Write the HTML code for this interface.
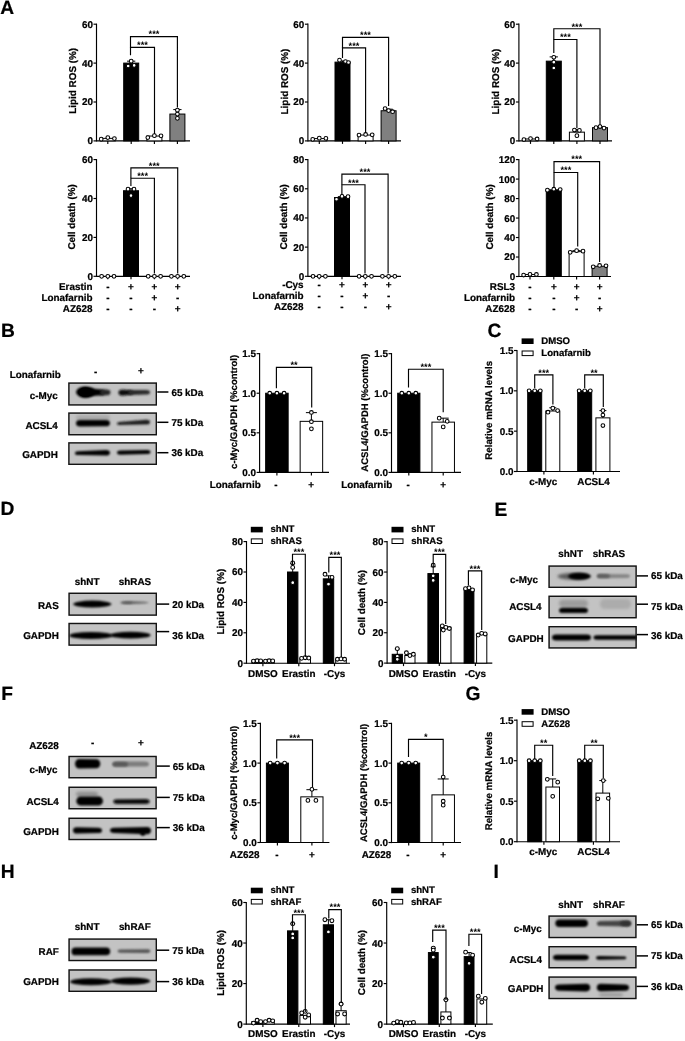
<!DOCTYPE html>
<html><head><meta charset="utf-8"><title>Figure</title>
<style>
html,body{margin:0;padding:0;background:#fff;}
svg{display:block;}
text{font-family:"Liberation Sans",Arial,Helvetica,sans-serif;font-weight:bold;font-size:9.9px;fill:#000;stroke:#000;stroke-width:0.22px;text-rendering:geometricPrecision;}
</style></head><body>
<svg width="685" height="1041" viewBox="0 0 685 1041">
<defs>
<filter id="b06" x="-50%" y="-200%" width="200%" height="500%"><feGaussianBlur stdDeviation="0.6"/></filter>
<filter id="b07" x="-50%" y="-200%" width="200%" height="500%"><feGaussianBlur stdDeviation="0.9"/></filter>
<filter id="b1" x="-50%" y="-200%" width="200%" height="500%"><feGaussianBlur stdDeviation="1"/></filter>
<filter id="b15" x="-50%" y="-200%" width="200%" height="500%"><feGaussianBlur stdDeviation="1.5"/></filter>
<filter id="b2" x="-50%" y="-200%" width="200%" height="500%"><feGaussianBlur stdDeviation="2"/></filter>
</defs>
<rect width="685" height="1041" fill="#fff"/>
<text x="0.2" y="13.9" style="font-size:19.2px">A</text>
<line x1="96.5" y1="23.6" x2="96.5" y2="141.5" stroke="#000" stroke-width="1.15"/>
<line x1="93.5" y1="140.9" x2="96.5" y2="140.9" stroke="#000" stroke-width="1.15"/>
<text x="92.9" y="144.37" text-anchor="end">0</text>
<line x1="93.5" y1="102" x2="96.5" y2="102" stroke="#000" stroke-width="1.15"/>
<text x="92.9" y="105.47" text-anchor="end">20</text>
<line x1="93.5" y1="63.1" x2="96.5" y2="63.1" stroke="#000" stroke-width="1.15"/>
<text x="92.9" y="66.57" text-anchor="end">40</text>
<line x1="93.5" y1="24.2" x2="96.5" y2="24.2" stroke="#000" stroke-width="1.15"/>
<text x="92.9" y="27.67" text-anchor="end">60</text>
<line x1="96.5" y1="140.9" x2="190" y2="140.9" stroke="#000" stroke-width="1.15"/>
<line x1="107.8" y1="140.9" x2="107.8" y2="143.9" stroke="#000" stroke-width="1.15"/>
<line x1="131.2" y1="140.9" x2="131.2" y2="143.9" stroke="#000" stroke-width="1.15"/>
<line x1="154.4" y1="140.9" x2="154.4" y2="143.9" stroke="#000" stroke-width="1.15"/>
<line x1="177.4" y1="140.9" x2="177.4" y2="143.9" stroke="#000" stroke-width="1.15"/>
<text x="75.87" y="80.8" text-anchor="middle" transform="rotate(-90 75.87 80.8)">Lipid ROS (%)</text>
<rect x="100.3" y="138.37" width="15" height="2.53" fill="#fff" stroke="#000" stroke-width="1"/>
<circle cx="101.2" cy="139.15" r="1.85" fill="#fff" stroke="#000" stroke-width="1.05"/>
<circle cx="107.8" cy="137.59" r="1.85" fill="#fff" stroke="#000" stroke-width="1.05"/>
<circle cx="114.4" cy="138.57" r="1.85" fill="#fff" stroke="#000" stroke-width="1.05"/>
<rect x="123.7" y="63.1" width="15" height="77.8" fill="#000" stroke="#000" stroke-width="1"/>
<line x1="131.2" y1="63.1" x2="131.2" y2="61.16" stroke="#000" stroke-width="1"/>
<line x1="127.07" y1="61.16" x2="135.32" y2="61.16" stroke="#000" stroke-width="1"/>
<circle cx="131.2" cy="61.16" r="1.85" fill="#fff" stroke="#000" stroke-width="1.05"/>
<circle cx="128.2" cy="66.02" r="1.85" fill="#fff" stroke="#000" stroke-width="1.05"/>
<circle cx="134.2" cy="65.43" r="1.85" fill="#fff" stroke="#000" stroke-width="1.05"/>
<rect x="146.9" y="136.04" width="15" height="4.86" fill="#fff" stroke="#000" stroke-width="1"/>
<circle cx="147.8" cy="137.59" r="1.85" fill="#fff" stroke="#000" stroke-width="1.05"/>
<circle cx="154.4" cy="135.65" r="1.85" fill="#fff" stroke="#000" stroke-width="1.05"/>
<circle cx="161" cy="135.84" r="1.85" fill="#fff" stroke="#000" stroke-width="1.05"/>
<rect x="169.9" y="114.06" width="15" height="26.84" fill="#808080" stroke="#000" stroke-width="1"/>
<line x1="177.4" y1="114.06" x2="177.4" y2="109.59" stroke="#000" stroke-width="1"/>
<line x1="173.28" y1="109.59" x2="181.53" y2="109.59" stroke="#000" stroke-width="1"/>
<circle cx="177.4" cy="110.17" r="1.85" fill="#fff" stroke="#000" stroke-width="1.05"/>
<circle cx="177.4" cy="114.06" r="1.85" fill="#fff" stroke="#000" stroke-width="1.05"/>
<circle cx="177.4" cy="118.34" r="1.85" fill="#fff" stroke="#000" stroke-width="1.05"/>
<path d="M130.5 55.3V47.4H154.5V134" fill="none" stroke="#000" stroke-width="1.15"/>
<text x="142.5" y="48.2" text-anchor="middle" style="font-size:9.3px;stroke:none">***</text>
<path d="M130.5 47.4V36.6H177.4V107.5" fill="none" stroke="#000" stroke-width="1.15"/>
<text x="153.95" y="37.4" text-anchor="middle" style="font-size:9.3px;stroke:none">***</text>
<line x1="307.9" y1="23.6" x2="307.9" y2="141.5" stroke="#000" stroke-width="1.15"/>
<line x1="304.9" y1="140.9" x2="307.9" y2="140.9" stroke="#000" stroke-width="1.15"/>
<text x="304.3" y="144.37" text-anchor="end">0</text>
<line x1="304.9" y1="102" x2="307.9" y2="102" stroke="#000" stroke-width="1.15"/>
<text x="304.3" y="105.47" text-anchor="end">20</text>
<line x1="304.9" y1="63.1" x2="307.9" y2="63.1" stroke="#000" stroke-width="1.15"/>
<text x="304.3" y="66.57" text-anchor="end">40</text>
<line x1="304.9" y1="24.2" x2="307.9" y2="24.2" stroke="#000" stroke-width="1.15"/>
<text x="304.3" y="27.67" text-anchor="end">60</text>
<line x1="307.9" y1="140.9" x2="401" y2="140.9" stroke="#000" stroke-width="1.15"/>
<line x1="319.3" y1="140.9" x2="319.3" y2="143.9" stroke="#000" stroke-width="1.15"/>
<line x1="342.5" y1="140.9" x2="342.5" y2="143.9" stroke="#000" stroke-width="1.15"/>
<line x1="365.6" y1="140.9" x2="365.6" y2="143.9" stroke="#000" stroke-width="1.15"/>
<line x1="388.6" y1="140.9" x2="388.6" y2="143.9" stroke="#000" stroke-width="1.15"/>
<text x="287.77" y="81.5" text-anchor="middle" transform="rotate(-90 287.77 81.5)">Lipid ROS (%)</text>
<rect x="311.8" y="138.57" width="15" height="2.33" fill="#fff" stroke="#000" stroke-width="1"/>
<circle cx="312.7" cy="139.34" r="1.85" fill="#fff" stroke="#000" stroke-width="1.05"/>
<circle cx="319.3" cy="138.18" r="1.85" fill="#fff" stroke="#000" stroke-width="1.05"/>
<circle cx="325.9" cy="138.37" r="1.85" fill="#fff" stroke="#000" stroke-width="1.05"/>
<rect x="335" y="62.13" width="15" height="78.77" fill="#000" stroke="#000" stroke-width="1"/>
<line x1="342.5" y1="62.13" x2="342.5" y2="60.96" stroke="#000" stroke-width="1"/>
<line x1="338.38" y1="60.96" x2="346.62" y2="60.96" stroke="#000" stroke-width="1"/>
<circle cx="339.5" cy="60.18" r="1.85" fill="#fff" stroke="#000" stroke-width="1.05"/>
<circle cx="345.5" cy="61.54" r="1.85" fill="#fff" stroke="#000" stroke-width="1.05"/>
<circle cx="348.5" cy="62.52" r="1.85" fill="#fff" stroke="#000" stroke-width="1.05"/>
<rect x="358.1" y="135.06" width="15" height="5.84" fill="#fff" stroke="#000" stroke-width="1"/>
<circle cx="359" cy="135.06" r="1.85" fill="#fff" stroke="#000" stroke-width="1.05"/>
<circle cx="365.6" cy="134.48" r="1.85" fill="#fff" stroke="#000" stroke-width="1.05"/>
<circle cx="372.2" cy="134.87" r="1.85" fill="#fff" stroke="#000" stroke-width="1.05"/>
<rect x="381.1" y="110.75" width="15" height="30.15" fill="#808080" stroke="#000" stroke-width="1"/>
<line x1="388.6" y1="110.75" x2="388.6" y2="109.2" stroke="#000" stroke-width="1"/>
<line x1="384.48" y1="109.2" x2="392.73" y2="109.2" stroke="#000" stroke-width="1"/>
<circle cx="385.1" cy="108.61" r="1.85" fill="#fff" stroke="#000" stroke-width="1.05"/>
<circle cx="388.6" cy="110.56" r="1.85" fill="#fff" stroke="#000" stroke-width="1.05"/>
<circle cx="392.6" cy="111.73" r="1.85" fill="#fff" stroke="#000" stroke-width="1.05"/>
<path d="M342.5 58V47.9H365.6V133" fill="none" stroke="#000" stroke-width="1.15"/>
<text x="354.05" y="48.7" text-anchor="middle" style="font-size:9.3px;stroke:none">***</text>
<path d="M342.5 47.9V37.4H388.6V106" fill="none" stroke="#000" stroke-width="1.15"/>
<text x="365.55" y="38.2" text-anchor="middle" style="font-size:9.3px;stroke:none">***</text>
<line x1="518.9" y1="23.6" x2="518.9" y2="141.5" stroke="#000" stroke-width="1.15"/>
<line x1="515.9" y1="140.9" x2="518.9" y2="140.9" stroke="#000" stroke-width="1.15"/>
<text x="515.3" y="144.37" text-anchor="end">0</text>
<line x1="515.9" y1="102" x2="518.9" y2="102" stroke="#000" stroke-width="1.15"/>
<text x="515.3" y="105.47" text-anchor="end">20</text>
<line x1="515.9" y1="63.1" x2="518.9" y2="63.1" stroke="#000" stroke-width="1.15"/>
<text x="515.3" y="66.57" text-anchor="end">40</text>
<line x1="515.9" y1="24.2" x2="518.9" y2="24.2" stroke="#000" stroke-width="1.15"/>
<text x="515.3" y="27.67" text-anchor="end">60</text>
<line x1="518.9" y1="140.9" x2="612" y2="140.9" stroke="#000" stroke-width="1.15"/>
<line x1="530.5" y1="140.9" x2="530.5" y2="143.9" stroke="#000" stroke-width="1.15"/>
<line x1="553.8" y1="140.9" x2="553.8" y2="143.9" stroke="#000" stroke-width="1.15"/>
<line x1="576.9" y1="140.9" x2="576.9" y2="143.9" stroke="#000" stroke-width="1.15"/>
<line x1="600" y1="140.9" x2="600" y2="143.9" stroke="#000" stroke-width="1.15"/>
<text x="498.77" y="81.5" text-anchor="middle" transform="rotate(-90 498.77 81.5)">Lipid ROS (%)</text>
<rect x="523" y="138.96" width="15" height="1.94" fill="#fff" stroke="#000" stroke-width="1"/>
<circle cx="523.9" cy="139.54" r="1.85" fill="#fff" stroke="#000" stroke-width="1.05"/>
<circle cx="530.5" cy="138.57" r="1.85" fill="#fff" stroke="#000" stroke-width="1.05"/>
<circle cx="537.1" cy="138.96" r="1.85" fill="#fff" stroke="#000" stroke-width="1.05"/>
<rect x="546.3" y="61.16" width="15" height="79.74" fill="#000" stroke="#000" stroke-width="1"/>
<line x1="553.8" y1="61.16" x2="553.8" y2="56.88" stroke="#000" stroke-width="1"/>
<line x1="549.67" y1="56.88" x2="557.92" y2="56.88" stroke="#000" stroke-width="1"/>
<circle cx="553.8" cy="57.27" r="1.85" fill="#fff" stroke="#000" stroke-width="1.05"/>
<circle cx="553.8" cy="62.13" r="1.85" fill="#fff" stroke="#000" stroke-width="1.05"/>
<circle cx="553.8" cy="67.96" r="1.85" fill="#fff" stroke="#000" stroke-width="1.05"/>
<rect x="569.4" y="132.15" width="15" height="8.75" fill="#fff" stroke="#000" stroke-width="1"/>
<line x1="576.9" y1="132.15" x2="576.9" y2="129.62" stroke="#000" stroke-width="1"/>
<line x1="572.77" y1="129.62" x2="581.02" y2="129.62" stroke="#000" stroke-width="1"/>
<circle cx="574.4" cy="130.01" r="1.85" fill="#fff" stroke="#000" stroke-width="1.05"/>
<circle cx="579.4" cy="130.4" r="1.85" fill="#fff" stroke="#000" stroke-width="1.05"/>
<circle cx="576.9" cy="135.65" r="1.85" fill="#fff" stroke="#000" stroke-width="1.05"/>
<rect x="592.5" y="127.67" width="15" height="13.23" fill="#808080" stroke="#000" stroke-width="1"/>
<line x1="600" y1="127.67" x2="600" y2="126.7" stroke="#000" stroke-width="1"/>
<line x1="595.88" y1="126.7" x2="604.12" y2="126.7" stroke="#000" stroke-width="1"/>
<circle cx="596" cy="127.67" r="1.85" fill="#fff" stroke="#000" stroke-width="1.05"/>
<circle cx="600" cy="126.51" r="1.85" fill="#fff" stroke="#000" stroke-width="1.05"/>
<circle cx="604" cy="128.06" r="1.85" fill="#fff" stroke="#000" stroke-width="1.05"/>
<path d="M553.8 53V39.5H576.9V128" fill="none" stroke="#000" stroke-width="1.15"/>
<text x="565.35" y="40.3" text-anchor="middle" style="font-size:9.3px;stroke:none">***</text>
<path d="M553.8 39.5V28.7H600V125" fill="none" stroke="#000" stroke-width="1.15"/>
<text x="576.9" y="29.5" text-anchor="middle" style="font-size:9.3px;stroke:none">***</text>
<line x1="96.5" y1="159" x2="96.5" y2="276.9" stroke="#000" stroke-width="1.15"/>
<line x1="93.5" y1="276.3" x2="96.5" y2="276.3" stroke="#000" stroke-width="1.15"/>
<text x="92.9" y="279.76" text-anchor="end">0</text>
<line x1="93.5" y1="237.4" x2="96.5" y2="237.4" stroke="#000" stroke-width="1.15"/>
<text x="92.9" y="240.87" text-anchor="end">20</text>
<line x1="93.5" y1="198.5" x2="96.5" y2="198.5" stroke="#000" stroke-width="1.15"/>
<text x="92.9" y="201.97" text-anchor="end">40</text>
<line x1="93.5" y1="159.6" x2="96.5" y2="159.6" stroke="#000" stroke-width="1.15"/>
<text x="92.9" y="163.06" text-anchor="end">60</text>
<line x1="96.5" y1="276.3" x2="190" y2="276.3" stroke="#000" stroke-width="1.15"/>
<line x1="107.8" y1="276.3" x2="107.8" y2="279.3" stroke="#000" stroke-width="1.15"/>
<line x1="131" y1="276.3" x2="131" y2="279.3" stroke="#000" stroke-width="1.15"/>
<line x1="154.4" y1="276.3" x2="154.4" y2="279.3" stroke="#000" stroke-width="1.15"/>
<line x1="177.6" y1="276.3" x2="177.6" y2="279.3" stroke="#000" stroke-width="1.15"/>
<text x="75.37" y="216.9" text-anchor="middle" transform="rotate(-90 75.37 216.9)">Cell death (%)</text>
<circle cx="101.6" cy="276.3" r="1.85" fill="#fff" stroke="#000" stroke-width="1.05"/>
<circle cx="107.8" cy="276.3" r="1.85" fill="#fff" stroke="#000" stroke-width="1.05"/>
<circle cx="114" cy="276.3" r="1.85" fill="#fff" stroke="#000" stroke-width="1.05"/>
<rect x="123.5" y="190.72" width="15" height="85.58" fill="#000" stroke="#000" stroke-width="1"/>
<line x1="131" y1="190.72" x2="131" y2="188.77" stroke="#000" stroke-width="1"/>
<line x1="126.88" y1="188.77" x2="135.12" y2="188.77" stroke="#000" stroke-width="1"/>
<circle cx="128" cy="189.16" r="1.85" fill="#fff" stroke="#000" stroke-width="1.05"/>
<circle cx="134" cy="189.16" r="1.85" fill="#fff" stroke="#000" stroke-width="1.05"/>
<circle cx="131" cy="195.58" r="1.85" fill="#fff" stroke="#000" stroke-width="1.05"/>
<circle cx="148.2" cy="276.3" r="1.85" fill="#fff" stroke="#000" stroke-width="1.05"/>
<circle cx="154.4" cy="276.3" r="1.85" fill="#fff" stroke="#000" stroke-width="1.05"/>
<circle cx="160.6" cy="276.3" r="1.85" fill="#fff" stroke="#000" stroke-width="1.05"/>
<circle cx="171.4" cy="276.3" r="1.85" fill="#fff" stroke="#000" stroke-width="1.05"/>
<circle cx="177.6" cy="276.3" r="1.85" fill="#fff" stroke="#000" stroke-width="1.05"/>
<circle cx="183.8" cy="276.3" r="1.85" fill="#fff" stroke="#000" stroke-width="1.05"/>
<path d="M130.9 186V178.2H154.4V273.5" fill="none" stroke="#000" stroke-width="1.15"/>
<text x="142.65" y="179" text-anchor="middle" style="font-size:9.3px;stroke:none">***</text>
<path d="M130.9 178.2V167.8H177.7V273.5" fill="none" stroke="#000" stroke-width="1.15"/>
<text x="154.3" y="168.6" text-anchor="middle" style="font-size:9.3px;stroke:none">***</text>
<text x="92.5" y="289.9" text-anchor="end">Erastin</text>
<text x="107.8" y="289.9" text-anchor="middle">-</text>
<text x="131" y="289.9" text-anchor="middle">+</text>
<text x="154.4" y="289.9" text-anchor="middle">+</text>
<text x="177.6" y="289.9" text-anchor="middle">+</text>
<text x="92.5" y="300.5" text-anchor="end">Lonafarnib</text>
<text x="107.8" y="300.5" text-anchor="middle">-</text>
<text x="131" y="300.5" text-anchor="middle">-</text>
<text x="154.4" y="300.5" text-anchor="middle">+</text>
<text x="177.6" y="300.5" text-anchor="middle">-</text>
<text x="92.5" y="311.8" text-anchor="end">AZ628</text>
<text x="107.8" y="311.8" text-anchor="middle">-</text>
<text x="131" y="311.8" text-anchor="middle">-</text>
<text x="154.4" y="311.8" text-anchor="middle">-</text>
<text x="177.6" y="311.8" text-anchor="middle">+</text>
<line x1="307.9" y1="159" x2="307.9" y2="276.9" stroke="#000" stroke-width="1.15"/>
<line x1="304.9" y1="276.3" x2="307.9" y2="276.3" stroke="#000" stroke-width="1.15"/>
<text x="304.3" y="279.76" text-anchor="end">0</text>
<line x1="304.9" y1="247.12" x2="307.9" y2="247.12" stroke="#000" stroke-width="1.15"/>
<text x="304.3" y="250.59" text-anchor="end">20</text>
<line x1="304.9" y1="217.95" x2="307.9" y2="217.95" stroke="#000" stroke-width="1.15"/>
<text x="304.3" y="221.41" text-anchor="end">40</text>
<line x1="304.9" y1="188.78" x2="307.9" y2="188.78" stroke="#000" stroke-width="1.15"/>
<text x="304.3" y="192.24" text-anchor="end">60</text>
<line x1="304.9" y1="159.6" x2="307.9" y2="159.6" stroke="#000" stroke-width="1.15"/>
<text x="304.3" y="163.06" text-anchor="end">80</text>
<line x1="307.9" y1="276.3" x2="401" y2="276.3" stroke="#000" stroke-width="1.15"/>
<line x1="319.2" y1="276.3" x2="319.2" y2="279.3" stroke="#000" stroke-width="1.15"/>
<line x1="342" y1="276.3" x2="342" y2="279.3" stroke="#000" stroke-width="1.15"/>
<line x1="365.3" y1="276.3" x2="365.3" y2="279.3" stroke="#000" stroke-width="1.15"/>
<line x1="388.6" y1="276.3" x2="388.6" y2="279.3" stroke="#000" stroke-width="1.15"/>
<text x="287.37" y="216.9" text-anchor="middle" transform="rotate(-90 287.37 216.9)">Cell death (%)</text>
<circle cx="313" cy="276.3" r="1.85" fill="#fff" stroke="#000" stroke-width="1.05"/>
<circle cx="319.2" cy="276.3" r="1.85" fill="#fff" stroke="#000" stroke-width="1.05"/>
<circle cx="325.4" cy="276.3" r="1.85" fill="#fff" stroke="#000" stroke-width="1.05"/>
<rect x="334.5" y="197.53" width="15" height="78.77" fill="#000" stroke="#000" stroke-width="1"/>
<line x1="342" y1="197.53" x2="342" y2="196.65" stroke="#000" stroke-width="1"/>
<line x1="337.88" y1="196.65" x2="346.12" y2="196.65" stroke="#000" stroke-width="1"/>
<circle cx="336.5" cy="199.28" r="1.85" fill="#fff" stroke="#000" stroke-width="1.05"/>
<circle cx="342" cy="196.36" r="1.85" fill="#fff" stroke="#000" stroke-width="1.05"/>
<circle cx="348" cy="196.65" r="1.85" fill="#fff" stroke="#000" stroke-width="1.05"/>
<circle cx="359.1" cy="276.3" r="1.85" fill="#fff" stroke="#000" stroke-width="1.05"/>
<circle cx="365.3" cy="276.3" r="1.85" fill="#fff" stroke="#000" stroke-width="1.05"/>
<circle cx="371.5" cy="276.3" r="1.85" fill="#fff" stroke="#000" stroke-width="1.05"/>
<circle cx="382.4" cy="276.3" r="1.85" fill="#fff" stroke="#000" stroke-width="1.05"/>
<circle cx="388.6" cy="276.3" r="1.85" fill="#fff" stroke="#000" stroke-width="1.05"/>
<circle cx="394.8" cy="276.3" r="1.85" fill="#fff" stroke="#000" stroke-width="1.05"/>
<path d="M341.9 195V184.7H365V273.5" fill="none" stroke="#000" stroke-width="1.15"/>
<text x="353.45" y="185.5" text-anchor="middle" style="font-size:9.3px;stroke:none">***</text>
<path d="M341.9 184.7V174.1H388.1V273.5" fill="none" stroke="#000" stroke-width="1.15"/>
<text x="365" y="174.9" text-anchor="middle" style="font-size:9.3px;stroke:none">***</text>
<text x="303.6" y="287.9" text-anchor="end">-Cys</text>
<text x="319.2" y="287.9" text-anchor="middle">-</text>
<text x="342" y="287.9" text-anchor="middle">+</text>
<text x="365.3" y="287.9" text-anchor="middle">+</text>
<text x="388.6" y="287.9" text-anchor="middle">+</text>
<text x="303.6" y="298.8" text-anchor="end">Lonafarnib</text>
<text x="319.2" y="298.8" text-anchor="middle">-</text>
<text x="342" y="298.8" text-anchor="middle">-</text>
<text x="365.3" y="298.8" text-anchor="middle">+</text>
<text x="388.6" y="298.8" text-anchor="middle">-</text>
<text x="303.6" y="309.7" text-anchor="end">AZ628</text>
<text x="319.2" y="309.7" text-anchor="middle">-</text>
<text x="342" y="309.7" text-anchor="middle">-</text>
<text x="365.3" y="309.7" text-anchor="middle">-</text>
<text x="388.6" y="309.7" text-anchor="middle">+</text>
<line x1="518.9" y1="159" x2="518.9" y2="277.1" stroke="#000" stroke-width="1.15"/>
<line x1="515.9" y1="276.5" x2="518.9" y2="276.5" stroke="#000" stroke-width="1.15"/>
<text x="515.3" y="279.96" text-anchor="end">0</text>
<line x1="515.9" y1="257.02" x2="518.9" y2="257.02" stroke="#000" stroke-width="1.15"/>
<text x="515.3" y="260.48" text-anchor="end">20</text>
<line x1="515.9" y1="237.53" x2="518.9" y2="237.53" stroke="#000" stroke-width="1.15"/>
<text x="515.3" y="241" text-anchor="end">40</text>
<line x1="515.9" y1="218.05" x2="518.9" y2="218.05" stroke="#000" stroke-width="1.15"/>
<text x="515.3" y="221.52" text-anchor="end">60</text>
<line x1="515.9" y1="198.57" x2="518.9" y2="198.57" stroke="#000" stroke-width="1.15"/>
<text x="515.3" y="202.03" text-anchor="end">80</text>
<line x1="515.9" y1="179.08" x2="518.9" y2="179.08" stroke="#000" stroke-width="1.15"/>
<text x="515.3" y="182.55" text-anchor="end">100</text>
<line x1="515.9" y1="159.6" x2="518.9" y2="159.6" stroke="#000" stroke-width="1.15"/>
<text x="515.3" y="163.06" text-anchor="end">120</text>
<line x1="518.9" y1="276.5" x2="611" y2="276.5" stroke="#000" stroke-width="1.15"/>
<line x1="530" y1="276.5" x2="530" y2="279.5" stroke="#000" stroke-width="1.15"/>
<line x1="553.8" y1="276.5" x2="553.8" y2="279.5" stroke="#000" stroke-width="1.15"/>
<line x1="576.6" y1="276.5" x2="576.6" y2="279.5" stroke="#000" stroke-width="1.15"/>
<line x1="599.6" y1="276.5" x2="599.6" y2="279.5" stroke="#000" stroke-width="1.15"/>
<text x="493.27" y="216.9" text-anchor="middle" transform="rotate(-90 493.27 216.9)">Cell death (%)</text>
<rect x="522.5" y="274.55" width="15" height="1.95" fill="#fff" stroke="#000" stroke-width="1"/>
<circle cx="523.6" cy="275.04" r="1.85" fill="#fff" stroke="#000" stroke-width="1.05"/>
<circle cx="530" cy="274.36" r="1.85" fill="#fff" stroke="#000" stroke-width="1.05"/>
<circle cx="536.4" cy="274.45" r="1.85" fill="#fff" stroke="#000" stroke-width="1.05"/>
<rect x="546.3" y="189.8" width="15" height="86.7" fill="#000" stroke="#000" stroke-width="1"/>
<circle cx="547.4" cy="190.19" r="1.85" fill="#fff" stroke="#000" stroke-width="1.05"/>
<circle cx="553.8" cy="189.21" r="1.85" fill="#fff" stroke="#000" stroke-width="1.05"/>
<circle cx="560.2" cy="189.51" r="1.85" fill="#fff" stroke="#000" stroke-width="1.05"/>
<rect x="569.1" y="251.66" width="15" height="24.84" fill="#fff" stroke="#000" stroke-width="1"/>
<line x1="576.6" y1="251.66" x2="576.6" y2="250.68" stroke="#000" stroke-width="1"/>
<line x1="572.48" y1="250.68" x2="580.73" y2="250.68" stroke="#000" stroke-width="1"/>
<circle cx="570.2" cy="252.34" r="1.85" fill="#fff" stroke="#000" stroke-width="1.05"/>
<circle cx="576.6" cy="250.68" r="1.85" fill="#fff" stroke="#000" stroke-width="1.05"/>
<circle cx="583" cy="251.17" r="1.85" fill="#fff" stroke="#000" stroke-width="1.05"/>
<rect x="592.1" y="266.27" width="15" height="10.23" fill="#808080" stroke="#000" stroke-width="1"/>
<circle cx="593.2" cy="266.76" r="1.85" fill="#fff" stroke="#000" stroke-width="1.05"/>
<circle cx="599.6" cy="265.49" r="1.85" fill="#fff" stroke="#000" stroke-width="1.05"/>
<circle cx="606" cy="265.78" r="1.85" fill="#fff" stroke="#000" stroke-width="1.05"/>
<path d="M554 187V172.5H577.7V246.5" fill="none" stroke="#000" stroke-width="1.15"/>
<text x="565.85" y="173.3" text-anchor="middle" style="font-size:9.3px;stroke:none">***</text>
<path d="M554 172.5V161.6H599.6V262" fill="none" stroke="#000" stroke-width="1.15"/>
<text x="576.8" y="162.4" text-anchor="middle" style="font-size:9.3px;stroke:none">***</text>
<text x="515" y="289.9" text-anchor="end">RSL3</text>
<text x="530" y="289.9" text-anchor="middle">-</text>
<text x="553.8" y="289.9" text-anchor="middle">+</text>
<text x="576.6" y="289.9" text-anchor="middle">+</text>
<text x="599.6" y="289.9" text-anchor="middle">+</text>
<text x="515" y="300.5" text-anchor="end">Lonafarnib</text>
<text x="530" y="300.5" text-anchor="middle">-</text>
<text x="553.8" y="300.5" text-anchor="middle">-</text>
<text x="576.6" y="300.5" text-anchor="middle">+</text>
<text x="599.6" y="300.5" text-anchor="middle">-</text>
<text x="515" y="311.8" text-anchor="end">AZ628</text>
<text x="530" y="311.8" text-anchor="middle">-</text>
<text x="553.8" y="311.8" text-anchor="middle">-</text>
<text x="576.6" y="311.8" text-anchor="middle">-</text>
<text x="599.6" y="311.8" text-anchor="middle">+</text>
<text x="1" y="336.9" style="font-size:19.2px">B</text>
<text x="60.8" y="377.8" text-anchor="end">Lonafarnib</text>
<text x="95.6" y="374.5" text-anchor="middle">-</text>
<text x="141" y="374.4" text-anchor="middle">+</text>
<text x="57.8" y="398.9" text-anchor="end">c-Myc</text>
<text x="57.8" y="428.7" text-anchor="end">ACSL4</text>
<text x="57.8" y="458.1" text-anchor="end">GAPDH</text>
<rect x="68.2" y="382.4" width="88.8" height="23.2" fill="#c3c3c3"/>
<clipPath id="c1"><rect x="68.2" y="382.4" width="88.8" height="23.2"/></clipPath><g clip-path="url(#c1)">
<ellipse cx="85.5" cy="392.2" rx="9.5" ry="5.8" fill="#000" filter="url(#b07)"/>
<ellipse cx="85.5" cy="392.2" rx="7.5" ry="4.6" fill="#000" filter="url(#b06)"/>
<path d="M84 387.8 L100 389.2 A4 3.2 0 0 1 100 395.6 L84 396.6 A4 4.4 0 0 1 84 387.8 Z" fill="#000" filter="url(#b07)"/>
<path d="M104 389.2 L106.5 389.6 A4 2.8 0 0 1 106.5 395.2 L104 395.6 A4 3.2 0 0 1 104 389.2 Z" fill="#262626" filter="url(#b1)"/>
<path d="M122.5 389.4 L129 389.9 A4 2.6 0 0 1 129 395.1 L122.5 395.8 A4 3.2 0 0 1 122.5 389.4 Z" fill="#111" filter="url(#b1)"/>
<path d="M131.84 390.1 L146.32 389.9 A3.68 2.3 0 0 1 146.32 394.5 L131.84 394.9 A3.84 2.4 0 0 1 131.84 390.1 Z" fill="#2a2a2a" filter="url(#b1)"/>
</g>
<rect x="68.9" y="383.1" width="87.4" height="21.8" fill="none" stroke="#141414" stroke-width="1.4"/>
<rect x="68.2" y="412.4" width="88.8" height="23" fill="#c3c3c3"/>
<clipPath id="c2"><rect x="68.2" y="412.4" width="88.8" height="23"/></clipPath><g clip-path="url(#c2)">
<path d="M79.84 415.2 L106.16 415.2 A3.84 2.4 0 0 1 106.16 420 L79.84 420 A3.84 2.4 0 0 1 79.84 415.2 Z" fill="#a8a8a8" filter="url(#b15)"/>
<path d="M80 420 L106 420.1 A4 3.1 0 0 1 106 426.3 L80 426.6 A4 3.3 0 0 1 80 420 Z" fill="#000" filter="url(#b07)"/>
<path d="M119.4 422.1 L146.16 419.8 A3.84 2.4 0 0 1 146.16 424.6 L119.4 425.1 A2.4 1.5 0 0 1 119.4 422.1 Z" fill="#1e1e1e" filter="url(#b1)"/>
</g>
<rect x="68.9" y="413.1" width="87.4" height="21.6" fill="none" stroke="#141414" stroke-width="1.4"/>
<rect x="68.2" y="442.2" width="88.8" height="22.8" fill="#c3c3c3"/>
<clipPath id="c3"><rect x="68.2" y="442.2" width="88.8" height="22.8"/></clipPath><g clip-path="url(#c3)">
<path d="M78.04 451.3 L106 450 A4 2.8 0 0 1 106 455.6 L78.04 455.1 A3.04 1.9 0 0 1 78.04 451.3 Z" fill="#000" filter="url(#b07)"/>
<path d="M120.52 450.4 L147.14 449.9 A3.36 2.1 0 0 1 147.14 454.1 L120.52 454.8 A3.52 2.2 0 0 1 120.52 450.4 Z" fill="#000" filter="url(#b07)"/>
</g>
<rect x="68.9" y="442.9" width="87.4" height="21.4" fill="none" stroke="#141414" stroke-width="1.4"/>
<line x1="157.3" y1="392" x2="168.4" y2="392" stroke="#000" stroke-width="1.5"/>
<text x="171.4" y="395.6">65 kDa</text>
<line x1="157.3" y1="422.3" x2="168.4" y2="422.3" stroke="#000" stroke-width="1.5"/>
<text x="171.4" y="425.8">75 kDa</text>
<line x1="157.3" y1="452.7" x2="168.4" y2="452.7" stroke="#000" stroke-width="1.5"/>
<text x="171.4" y="456">36 kDa</text>
<line x1="259.6" y1="353.05" x2="259.6" y2="473" stroke="#000" stroke-width="1.15"/>
<line x1="256.6" y1="472.4" x2="259.6" y2="472.4" stroke="#000" stroke-width="1.15"/>
<text x="256" y="475.86" text-anchor="end">0.0</text>
<line x1="256.6" y1="432.82" x2="259.6" y2="432.82" stroke="#000" stroke-width="1.15"/>
<text x="256" y="436.28" text-anchor="end">0.5</text>
<line x1="256.6" y1="393.23" x2="259.6" y2="393.23" stroke="#000" stroke-width="1.15"/>
<text x="256" y="396.7" text-anchor="end">1.0</text>
<line x1="256.6" y1="353.65" x2="259.6" y2="353.65" stroke="#000" stroke-width="1.15"/>
<text x="256" y="357.11" text-anchor="end">1.5</text>
<line x1="259.6" y1="472.4" x2="329" y2="472.4" stroke="#000" stroke-width="1.15"/>
<line x1="276.9" y1="472.4" x2="276.9" y2="475.4" stroke="#000" stroke-width="1.15"/>
<line x1="311.4" y1="472.4" x2="311.4" y2="475.4" stroke="#000" stroke-width="1.15"/>
<text x="236.68" y="411.9" style="font-size:9.55px" text-anchor="middle" transform="rotate(-90 236.68 411.9)">c-Myc/GAPDH (%control)</text>
<rect x="265.65" y="393.23" width="22.5" height="79.17" fill="#000" stroke="#000" stroke-width="1"/>
<circle cx="269.7" cy="393.23" r="1.85" fill="#fff" stroke="#000" stroke-width="1.05"/>
<circle cx="276.9" cy="393.23" r="1.85" fill="#fff" stroke="#000" stroke-width="1.05"/>
<circle cx="284.1" cy="393.23" r="1.85" fill="#fff" stroke="#000" stroke-width="1.05"/>
<rect x="300.15" y="421.34" width="22.5" height="51.06" fill="#fff" stroke="#000" stroke-width="1"/>
<line x1="311.4" y1="421.34" x2="311.4" y2="412.63" stroke="#000" stroke-width="1"/>
<line x1="305.9" y1="412.63" x2="316.9" y2="412.63" stroke="#000" stroke-width="1"/>
<circle cx="311.4" cy="412.47" r="1.85" fill="#fff" stroke="#000" stroke-width="1.05"/>
<circle cx="311.4" cy="421.73" r="1.85" fill="#fff" stroke="#000" stroke-width="1.05"/>
<circle cx="311.4" cy="428.86" r="1.85" fill="#fff" stroke="#000" stroke-width="1.05"/>
<path d="M276.4 388.2V367.3H311.7V407.4" fill="none" stroke="#000" stroke-width="1.15"/>
<text x="294.05" y="368.1" text-anchor="middle" style="font-size:9.3px;stroke:none">**</text>
<text x="260.7" y="488.2" text-anchor="end">Lonafarnib</text>
<text x="276" y="488.2" text-anchor="middle">-</text>
<text x="311.2" y="488.2" text-anchor="middle">+</text>
<line x1="391.5" y1="353.05" x2="391.5" y2="473" stroke="#000" stroke-width="1.15"/>
<line x1="388.5" y1="472.4" x2="391.5" y2="472.4" stroke="#000" stroke-width="1.15"/>
<text x="387.9" y="475.86" text-anchor="end">0.0</text>
<line x1="388.5" y1="432.82" x2="391.5" y2="432.82" stroke="#000" stroke-width="1.15"/>
<text x="387.9" y="436.28" text-anchor="end">0.5</text>
<line x1="388.5" y1="393.23" x2="391.5" y2="393.23" stroke="#000" stroke-width="1.15"/>
<text x="387.9" y="396.7" text-anchor="end">1.0</text>
<line x1="388.5" y1="353.65" x2="391.5" y2="353.65" stroke="#000" stroke-width="1.15"/>
<text x="387.9" y="357.11" text-anchor="end">1.5</text>
<line x1="391.5" y1="472.4" x2="461" y2="472.4" stroke="#000" stroke-width="1.15"/>
<line x1="408.8" y1="472.4" x2="408.8" y2="475.4" stroke="#000" stroke-width="1.15"/>
<line x1="443.2" y1="472.4" x2="443.2" y2="475.4" stroke="#000" stroke-width="1.15"/>
<text x="367.68" y="412.6" style="font-size:9.55px" text-anchor="middle" transform="rotate(-90 367.68 412.6)">ACSL4/GAPDH (%control)</text>
<rect x="397.7" y="393.23" width="22.2" height="79.17" fill="#000" stroke="#000" stroke-width="1"/>
<circle cx="401.8" cy="393.23" r="1.85" fill="#fff" stroke="#000" stroke-width="1.05"/>
<circle cx="408.8" cy="393.23" r="1.85" fill="#fff" stroke="#000" stroke-width="1.05"/>
<circle cx="415.8" cy="393.23" r="1.85" fill="#fff" stroke="#000" stroke-width="1.05"/>
<rect x="431.95" y="422.13" width="22.5" height="50.27" fill="#fff" stroke="#000" stroke-width="1"/>
<line x1="443.2" y1="422.13" x2="443.2" y2="418.17" stroke="#000" stroke-width="1"/>
<line x1="437.7" y1="418.17" x2="448.7" y2="418.17" stroke="#000" stroke-width="1"/>
<circle cx="439.2" cy="418.17" r="1.85" fill="#fff" stroke="#000" stroke-width="1.05"/>
<circle cx="447.2" cy="421.34" r="1.85" fill="#fff" stroke="#000" stroke-width="1.05"/>
<circle cx="443.2" cy="426.88" r="1.85" fill="#fff" stroke="#000" stroke-width="1.05"/>
<path d="M408.5 387.4V369.2H443.2V412.3" fill="none" stroke="#000" stroke-width="1.15"/>
<text x="425.85" y="370" text-anchor="middle" style="font-size:9.3px;stroke:none">***</text>
<text x="392.2" y="488.2" text-anchor="end">Lonafarnib</text>
<text x="408.2" y="488.2" text-anchor="middle">-</text>
<text x="443.2" y="488.2" text-anchor="middle">+</text>
<text x="487.5" y="337.3" style="font-size:19.2px">C</text>
<rect x="521.6" y="338.4" width="12" height="5.6" fill="#000"/>
<rect x="522.1" y="351" width="11" height="4.6" fill="#fff" stroke="#000" stroke-width="1"/>
<text x="541.3" y="344" style="font-size:9.6px">DMSO</text>
<text x="541.3" y="356.1" style="font-size:9.6px">Lonafarnib</text>
<line x1="517" y1="349.9" x2="517" y2="472.1" stroke="#000" stroke-width="1.15"/>
<line x1="514" y1="471.5" x2="517" y2="471.5" stroke="#000" stroke-width="1.15"/>
<text x="513.4" y="474.96" text-anchor="end">0.0</text>
<line x1="514" y1="431.17" x2="517" y2="431.17" stroke="#000" stroke-width="1.15"/>
<text x="513.4" y="434.63" text-anchor="end">0.5</text>
<line x1="514" y1="390.83" x2="517" y2="390.83" stroke="#000" stroke-width="1.15"/>
<text x="513.4" y="394.3" text-anchor="end">1.0</text>
<line x1="514" y1="350.5" x2="517" y2="350.5" stroke="#000" stroke-width="1.15"/>
<text x="513.4" y="353.96" text-anchor="end">1.5</text>
<line x1="517" y1="471.5" x2="620" y2="471.5" stroke="#000" stroke-width="1.15"/>
<line x1="543.9" y1="471.5" x2="543.9" y2="474.5" stroke="#000" stroke-width="1.15"/>
<line x1="593.4" y1="471.5" x2="593.4" y2="474.5" stroke="#000" stroke-width="1.15"/>
<text x="492.32" y="410.3" style="font-size:9.7px" text-anchor="middle" transform="rotate(-90 492.32 410.3)">Relative mRNA levels</text>
<rect x="527.7" y="390.83" width="14" height="80.67" fill="#000" stroke="#000" stroke-width="1"/>
<circle cx="529.1" cy="390.83" r="1.85" fill="#fff" stroke="#000" stroke-width="1.05"/>
<circle cx="534.7" cy="390.83" r="1.85" fill="#fff" stroke="#000" stroke-width="1.05"/>
<circle cx="540.3" cy="390.83" r="1.85" fill="#fff" stroke="#000" stroke-width="1.05"/>
<rect x="545.8" y="411" width="14" height="60.5" fill="#fff" stroke="#000" stroke-width="1"/>
<line x1="552.8" y1="411" x2="552.8" y2="407.77" stroke="#000" stroke-width="1"/>
<line x1="549.3" y1="407.77" x2="556.3" y2="407.77" stroke="#000" stroke-width="1"/>
<circle cx="548" cy="412.21" r="1.85" fill="#fff" stroke="#000" stroke-width="1.05"/>
<circle cx="552.8" cy="408.18" r="1.85" fill="#fff" stroke="#000" stroke-width="1.05"/>
<circle cx="557.6" cy="410.6" r="1.85" fill="#fff" stroke="#000" stroke-width="1.05"/>
<rect x="577.7" y="390.83" width="14" height="80.67" fill="#000" stroke="#000" stroke-width="1"/>
<circle cx="579.1" cy="390.83" r="1.85" fill="#fff" stroke="#000" stroke-width="1.05"/>
<circle cx="584.7" cy="390.83" r="1.85" fill="#fff" stroke="#000" stroke-width="1.05"/>
<circle cx="590.3" cy="390.83" r="1.85" fill="#fff" stroke="#000" stroke-width="1.05"/>
<rect x="595.9" y="417.86" width="14" height="53.64" fill="#fff" stroke="#000" stroke-width="1"/>
<line x1="602.9" y1="417.86" x2="602.9" y2="410.6" stroke="#000" stroke-width="1"/>
<line x1="599.4" y1="410.6" x2="606.4" y2="410.6" stroke="#000" stroke-width="1"/>
<circle cx="602.9" cy="410.6" r="1.85" fill="#fff" stroke="#000" stroke-width="1.05"/>
<circle cx="602.9" cy="415.03" r="1.85" fill="#fff" stroke="#000" stroke-width="1.05"/>
<circle cx="602.9" cy="425.52" r="1.85" fill="#fff" stroke="#000" stroke-width="1.05"/>
<path d="M534.7 388V374.9H552.9V404.5" fill="none" stroke="#000" stroke-width="1.15"/>
<text x="543.8" y="375.7" text-anchor="middle" style="font-size:9.3px;stroke:none">***</text>
<path d="M584.7 388V374.9H603.3V407" fill="none" stroke="#000" stroke-width="1.15"/>
<text x="594" y="375.7" text-anchor="middle" style="font-size:9.3px;stroke:none">**</text>
<text x="543.3" y="485.4" text-anchor="middle">c-Myc</text>
<text x="593.5" y="485.4" text-anchor="middle">ACSL4</text>
<text x="0.6" y="515.3" style="font-size:19.2px">D</text>
<text x="87.2" y="585.3" text-anchor="middle">shNT</text>
<text x="135" y="585.3" text-anchor="middle">shRAS</text>
<text x="58.8" y="609.4" text-anchor="end">RAS</text>
<text x="58.8" y="638.8" text-anchor="end">GAPDH</text>
<rect x="68.4" y="592.6" width="88.6" height="23.2" fill="#c3c3c3"/>
<clipPath id="c4"><rect x="68.4" y="592.6" width="88.6" height="23.2"/></clipPath><g clip-path="url(#c4)">
<ellipse cx="92.3" cy="604.1" rx="19.2" ry="3.5" fill="#000" filter="url(#b07)"/>
<ellipse cx="134.5" cy="602.6" rx="14.5" ry="1.3" fill="#666" filter="url(#b1)"/>
<ellipse cx="127" cy="602.7" rx="6" ry="1.3" fill="#555" filter="url(#b1)"/>
</g>
<rect x="69.1" y="593.3" width="87.2" height="21.8" fill="none" stroke="#141414" stroke-width="1.4"/>
<rect x="68.4" y="622.8" width="88.6" height="23" fill="#c3c3c3"/>
<clipPath id="c5"><rect x="68.4" y="622.8" width="88.6" height="23"/></clipPath><g clip-path="url(#c5)">
<ellipse cx="91" cy="635.5" rx="21.8" ry="3.6" fill="#000" filter="url(#b07)"/>
<ellipse cx="130.6" cy="635.2" rx="20" ry="3.4" fill="#000" filter="url(#b07)"/>
</g>
<rect x="69.1" y="623.5" width="87.2" height="21.6" fill="none" stroke="#141414" stroke-width="1.4"/>
<line x1="157" y1="604.1" x2="169.2" y2="604.1" stroke="#000" stroke-width="1.5"/>
<text x="172.2" y="607.5">20 kDa</text>
<line x1="157" y1="631.6" x2="169.2" y2="631.6" stroke="#000" stroke-width="1.5"/>
<text x="172.2" y="638.9">36 kDa</text>
<line x1="246.5" y1="541" x2="246.5" y2="663.8" stroke="#000" stroke-width="1.15"/>
<line x1="243.5" y1="663.2" x2="246.5" y2="663.2" stroke="#000" stroke-width="1.15"/>
<text x="242.9" y="666.67" text-anchor="end">0</text>
<line x1="243.5" y1="632.8" x2="246.5" y2="632.8" stroke="#000" stroke-width="1.15"/>
<text x="242.9" y="636.27" text-anchor="end">20</text>
<line x1="243.5" y1="602.4" x2="246.5" y2="602.4" stroke="#000" stroke-width="1.15"/>
<text x="242.9" y="605.87" text-anchor="end">40</text>
<line x1="243.5" y1="572" x2="246.5" y2="572" stroke="#000" stroke-width="1.15"/>
<text x="242.9" y="575.47" text-anchor="end">60</text>
<line x1="243.5" y1="541.6" x2="246.5" y2="541.6" stroke="#000" stroke-width="1.15"/>
<text x="242.9" y="545.07" text-anchor="end">80</text>
<line x1="246.5" y1="663.2" x2="350" y2="663.2" stroke="#000" stroke-width="1.15"/>
<line x1="262.9" y1="663.2" x2="262.9" y2="666.2" stroke="#000" stroke-width="1.15"/>
<line x1="298.8" y1="663.2" x2="298.8" y2="666.2" stroke="#000" stroke-width="1.15"/>
<line x1="334.5" y1="663.2" x2="334.5" y2="666.2" stroke="#000" stroke-width="1.15"/>
<text x="224.47" y="601.7" text-anchor="middle" transform="rotate(-90 224.47 601.7)">Lipid ROS (%)</text>
<rect x="251.9" y="660.92" width="10.4" height="2.28" fill="#000" stroke="#000" stroke-width="1"/>
<circle cx="253.5" cy="661.07" r="1.9" fill="#fff" stroke="#000" stroke-width="1.05"/>
<circle cx="257.1" cy="660.77" r="1.9" fill="#fff" stroke="#000" stroke-width="1.05"/>
<circle cx="260.7" cy="660.92" r="1.9" fill="#fff" stroke="#000" stroke-width="1.05"/>
<rect x="263.9" y="660.92" width="10.4" height="2.28" fill="#fff" stroke="#000" stroke-width="1"/>
<circle cx="265.5" cy="661.07" r="1.9" fill="#fff" stroke="#000" stroke-width="1.05"/>
<circle cx="269.1" cy="660.77" r="1.9" fill="#fff" stroke="#000" stroke-width="1.05"/>
<circle cx="272.7" cy="660.92" r="1.9" fill="#fff" stroke="#000" stroke-width="1.05"/>
<rect x="287.5" y="572" width="10.4" height="91.2" fill="#000" stroke="#000" stroke-width="1"/>
<line x1="292.7" y1="572" x2="292.7" y2="563.64" stroke="#000" stroke-width="1"/>
<line x1="290.2" y1="563.64" x2="295.2" y2="563.64" stroke="#000" stroke-width="1"/>
<circle cx="292.7" cy="562.88" r="1.9" fill="#fff" stroke="#000" stroke-width="1.05"/>
<circle cx="292.7" cy="567.44" r="1.9" fill="#fff" stroke="#000" stroke-width="1.05"/>
<circle cx="292.7" cy="582.64" r="1.9" fill="#fff" stroke="#000" stroke-width="1.05"/>
<rect x="299.9" y="658.34" width="10.6" height="4.86" fill="#fff" stroke="#000" stroke-width="1"/>
<circle cx="301.6" cy="658.34" r="1.9" fill="#fff" stroke="#000" stroke-width="1.05"/>
<circle cx="305.2" cy="657.73" r="1.9" fill="#fff" stroke="#000" stroke-width="1.05"/>
<circle cx="308.8" cy="658.03" r="1.9" fill="#fff" stroke="#000" stroke-width="1.05"/>
<rect x="323.3" y="578.84" width="10.4" height="84.36" fill="#000" stroke="#000" stroke-width="1"/>
<line x1="328.5" y1="578.84" x2="328.5" y2="575.8" stroke="#000" stroke-width="1"/>
<line x1="326" y1="575.8" x2="331" y2="575.8" stroke="#000" stroke-width="1"/>
<circle cx="325" cy="574.28" r="1.9" fill="#fff" stroke="#000" stroke-width="1.05"/>
<circle cx="332" cy="577.32" r="1.9" fill="#fff" stroke="#000" stroke-width="1.05"/>
<circle cx="328.5" cy="584.16" r="1.9" fill="#fff" stroke="#000" stroke-width="1.05"/>
<rect x="335.7" y="659.4" width="10.6" height="3.8" fill="#fff" stroke="#000" stroke-width="1"/>
<circle cx="337.4" cy="659.25" r="1.9" fill="#fff" stroke="#000" stroke-width="1.05"/>
<circle cx="341" cy="658.94" r="1.9" fill="#fff" stroke="#000" stroke-width="1.05"/>
<circle cx="344.6" cy="659.25" r="1.9" fill="#fff" stroke="#000" stroke-width="1.05"/>
<path d="M292.5 565V554.2H305.3V657" fill="none" stroke="#000" stroke-width="1.15"/>
<text x="298.9" y="555" text-anchor="middle" style="font-size:9.3px;stroke:none">***</text>
<path d="M328.8 572.5V557.3H341.3V657" fill="none" stroke="#000" stroke-width="1.15"/>
<text x="335.05" y="558.1" text-anchor="middle" style="font-size:9.3px;stroke:none">***</text>
<text x="262.9" y="676.8" text-anchor="middle">DMSO</text>
<text x="298.8" y="676.8" text-anchor="middle">Erastin</text>
<text x="334.5" y="676.8" text-anchor="middle">-Cys</text>
<rect x="250.8" y="526.8" width="12" height="5.6" fill="#000"/>
<rect x="251.3" y="538.9" width="11" height="4.6" fill="#fff" stroke="#000" stroke-width="1"/>
<text x="270.5" y="532.4" style="font-size:9.6px">shNT</text>
<text x="270.5" y="544" style="font-size:9.6px">shRAS</text>
<line x1="387.1" y1="541.1" x2="387.1" y2="663.7" stroke="#000" stroke-width="1.15"/>
<line x1="384.1" y1="663.1" x2="387.1" y2="663.1" stroke="#000" stroke-width="1.15"/>
<text x="383.5" y="666.57" text-anchor="end">0</text>
<line x1="384.1" y1="632.75" x2="387.1" y2="632.75" stroke="#000" stroke-width="1.15"/>
<text x="383.5" y="636.22" text-anchor="end">20</text>
<line x1="384.1" y1="602.4" x2="387.1" y2="602.4" stroke="#000" stroke-width="1.15"/>
<text x="383.5" y="605.87" text-anchor="end">40</text>
<line x1="384.1" y1="572.05" x2="387.1" y2="572.05" stroke="#000" stroke-width="1.15"/>
<text x="383.5" y="575.52" text-anchor="end">60</text>
<line x1="384.1" y1="541.7" x2="387.1" y2="541.7" stroke="#000" stroke-width="1.15"/>
<text x="383.5" y="545.17" text-anchor="end">80</text>
<line x1="387.1" y1="663.1" x2="492.3" y2="663.1" stroke="#000" stroke-width="1.15"/>
<line x1="403.5" y1="663.1" x2="403.5" y2="666.1" stroke="#000" stroke-width="1.15"/>
<line x1="439.3" y1="663.1" x2="439.3" y2="666.1" stroke="#000" stroke-width="1.15"/>
<line x1="475.4" y1="663.1" x2="475.4" y2="666.1" stroke="#000" stroke-width="1.15"/>
<text x="365.37" y="602.5" text-anchor="middle" transform="rotate(-90 365.37 602.5)">Cell death (%)</text>
<rect x="392.2" y="654.3" width="10.2" height="8.8" fill="#000" stroke="#000" stroke-width="1"/>
<line x1="397.3" y1="654.3" x2="397.3" y2="648.99" stroke="#000" stroke-width="1"/>
<line x1="394.8" y1="648.99" x2="399.8" y2="648.99" stroke="#000" stroke-width="1"/>
<circle cx="397.3" cy="648.68" r="1.9" fill="#fff" stroke="#000" stroke-width="1.05"/>
<circle cx="397.3" cy="656.27" r="1.9" fill="#fff" stroke="#000" stroke-width="1.05"/>
<circle cx="397.3" cy="659.31" r="1.9" fill="#fff" stroke="#000" stroke-width="1.05"/>
<rect x="404.8" y="655.51" width="10.2" height="7.59" fill="#fff" stroke="#000" stroke-width="1"/>
<circle cx="406.4" cy="652.78" r="1.9" fill="#fff" stroke="#000" stroke-width="1.05"/>
<circle cx="409.9" cy="655.51" r="1.9" fill="#fff" stroke="#000" stroke-width="1.05"/>
<circle cx="413.4" cy="654.3" r="1.9" fill="#fff" stroke="#000" stroke-width="1.05"/>
<rect x="427.9" y="573.57" width="10.6" height="89.53" fill="#000" stroke="#000" stroke-width="1"/>
<line x1="433.2" y1="573.57" x2="433.2" y2="566.74" stroke="#000" stroke-width="1"/>
<line x1="430.7" y1="566.74" x2="435.7" y2="566.74" stroke="#000" stroke-width="1"/>
<circle cx="433.2" cy="565.22" r="1.9" fill="#fff" stroke="#000" stroke-width="1.05"/>
<circle cx="433.2" cy="575.84" r="1.9" fill="#fff" stroke="#000" stroke-width="1.05"/>
<circle cx="433.2" cy="580.4" r="1.9" fill="#fff" stroke="#000" stroke-width="1.05"/>
<rect x="440.6" y="627.29" width="10.4" height="35.81" fill="#fff" stroke="#000" stroke-width="1"/>
<circle cx="442.3" cy="625.92" r="1.9" fill="#fff" stroke="#000" stroke-width="1.05"/>
<circle cx="445.8" cy="627.44" r="1.9" fill="#fff" stroke="#000" stroke-width="1.05"/>
<circle cx="449.3" cy="628.5" r="1.9" fill="#fff" stroke="#000" stroke-width="1.05"/>
<circle cx="443.3" cy="630.02" r="1.9" fill="#fff" stroke="#000" stroke-width="1.05"/>
<rect x="464.1" y="589.2" width="9.8" height="73.9" fill="#000" stroke="#000" stroke-width="1"/>
<circle cx="465.5" cy="588.74" r="1.9" fill="#fff" stroke="#000" stroke-width="1.05"/>
<circle cx="469" cy="587.83" r="1.9" fill="#fff" stroke="#000" stroke-width="1.05"/>
<circle cx="472.5" cy="589.96" r="1.9" fill="#fff" stroke="#000" stroke-width="1.05"/>
<rect x="476.6" y="634.27" width="10.2" height="28.83" fill="#fff" stroke="#000" stroke-width="1"/>
<circle cx="478.2" cy="635.03" r="1.9" fill="#fff" stroke="#000" stroke-width="1.05"/>
<circle cx="481.7" cy="633.36" r="1.9" fill="#fff" stroke="#000" stroke-width="1.05"/>
<circle cx="485.2" cy="633.96" r="1.9" fill="#fff" stroke="#000" stroke-width="1.05"/>
<path d="M433.2 567V554.4H445.7V624" fill="none" stroke="#000" stroke-width="1.15"/>
<text x="439.45" y="555.2" text-anchor="middle" style="font-size:9.3px;stroke:none">***</text>
<path d="M468.4 585.5V570.8H481.7V630" fill="none" stroke="#000" stroke-width="1.15"/>
<text x="475.05" y="571.6" text-anchor="middle" style="font-size:9.3px;stroke:none">***</text>
<text x="403.5" y="676.8" text-anchor="middle">DMSO</text>
<text x="439.3" y="676.8" text-anchor="middle">Erastin</text>
<text x="475.4" y="676.8" text-anchor="middle">-Cys</text>
<rect x="391.5" y="526.8" width="12" height="5.6" fill="#000"/>
<rect x="392" y="538.9" width="11" height="4.6" fill="#fff" stroke="#000" stroke-width="1"/>
<text x="411.2" y="532.4" style="font-size:9.6px">shNT</text>
<text x="411.2" y="544" style="font-size:9.6px">shRAS</text>
<text x="494.5" y="515.7" style="font-size:19.2px">E</text>
<text x="570.6" y="556.7" text-anchor="middle">shNT</text>
<text x="609" y="556.7" text-anchor="middle">shRAS</text>
<text x="523.9" y="582.8" text-anchor="middle">c-Myc</text>
<text x="525.4" y="609.9" text-anchor="middle">ACSL4</text>
<text x="525.9" y="641.9" text-anchor="middle">GAPDH</text>
<rect x="548.4" y="565.4" width="88.4" height="22.6" fill="#c3c3c3"/>
<clipPath id="c6"><rect x="548.4" y="565.4" width="88.4" height="22.6"/></clipPath><g clip-path="url(#c6)">
<ellipse cx="573" cy="576.3" rx="15.5" ry="3.4" fill="#5a5a5a" filter="url(#b15)"/>
<ellipse cx="579.5" cy="576.3" rx="11.5" ry="3.5" fill="#000" filter="url(#b07)"/>
<path d="M600.52 573.9 L627.12 574.3 A2.88 1.8 0 0 1 627.12 577.9 L600.52 578.3 A3.52 2.2 0 0 1 600.52 573.9 Z" fill="#858585" filter="url(#b1)"/>
<path d="M600.2 574.1 L607.12 574.3 A2.88 1.8 0 0 1 607.12 577.9 L600.2 578.1 A3.2 2 0 0 1 600.2 574.1 Z" fill="#5e5e5e" filter="url(#b1)"/>
</g>
<rect x="549.1" y="566.1" width="87" height="21.2" fill="none" stroke="#141414" stroke-width="1.4"/>
<rect x="548.4" y="595.6" width="88.4" height="22.8" fill="#c3c3c3"/>
<clipPath id="c7"><rect x="548.4" y="595.6" width="88.4" height="22.8"/></clipPath><g clip-path="url(#c7)">
<path d="M563 599.8 L584 599.8 A4 3.6 0 0 1 584 607 L563 607 A4 3.6 0 0 1 563 599.8 Z" fill="#9c9c9c" filter="url(#b15)"/>
<path d="M563 607.7 L584 607.8 A4 2.6 0 0 1 584 613 L563 613.1 A4 2.7 0 0 1 563 607.7 Z" fill="#000" filter="url(#b07)"/>
<path d="M604 599 L627 599 A4 5 0 0 1 627 609 L604 609 A4 5 0 0 1 604 599 Z" fill="#acacac" filter="url(#b15)"/>
</g>
<rect x="549.1" y="596.3" width="87" height="21.4" fill="none" stroke="#141414" stroke-width="1.4"/>
<rect x="548.4" y="626" width="88.4" height="22.6" fill="#c3c3c3"/>
<clipPath id="c8"><rect x="548.4" y="626" width="88.4" height="22.6"/></clipPath><g clip-path="url(#c8)">
<path d="M556 634.6 L587 634.6 A4 3 0 0 1 587 640.6 L556 640.6 A4 3 0 0 1 556 634.6 Z" fill="#000" filter="url(#b07)"/>
<path d="M597.02 635.3 L636.48 635.3 A3.52 2.2 0 0 1 636.48 639.7 L597.02 639.7 A3.52 2.2 0 0 1 597.02 635.3 Z" fill="#000" filter="url(#b07)"/>
</g>
<rect x="549.1" y="626.7" width="87" height="21.2" fill="none" stroke="#141414" stroke-width="1.4"/>
<line x1="636.8" y1="575.9" x2="648" y2="575.9" stroke="#000" stroke-width="1.5"/>
<text x="651" y="578.7">65 kDa</text>
<line x1="636.8" y1="604.2" x2="648" y2="604.2" stroke="#000" stroke-width="1.5"/>
<text x="651" y="610.4">75 kDa</text>
<line x1="636.8" y1="634.6" x2="648" y2="634.6" stroke="#000" stroke-width="1.5"/>
<text x="651" y="639.2">36 kDa</text>
<text x="1.2" y="700.4" style="font-size:19.2px">F</text>
<text x="58.8" y="749.4" text-anchor="end">AZ628</text>
<text x="92.7" y="745.5" text-anchor="middle">-</text>
<text x="141" y="745.5" text-anchor="middle">+</text>
<text x="57.6" y="773" text-anchor="end">c-Myc</text>
<text x="58.8" y="804.9" text-anchor="end">ACSL4</text>
<text x="58.8" y="835.4" text-anchor="end">GAPDH</text>
<rect x="68.4" y="755.8" width="88.4" height="22.6" fill="#c3c3c3"/>
<clipPath id="c9"><rect x="68.4" y="755.8" width="88.4" height="22.6"/></clipPath><g clip-path="url(#c9)">
<path d="M79 759 L96.3 759.3 A4 4.5 0 0 1 96.3 768.3 L79 768.6 A4 4.8 0 0 1 79 759 Z" fill="#000" filter="url(#b07)"/>
<path d="M116.5 761.4 L145 761.4 A4 2.6 0 0 1 145 766.6 L116.5 766.6 A4 2.6 0 0 1 116.5 761.4 Z" fill="#7b7b7b" filter="url(#b1)"/>
<path d="M116.18 761.9 L124.32 761.9 A3.68 2.3 0 0 1 124.32 766.5 L116.18 766.5 A3.68 2.3 0 0 1 116.18 761.9 Z" fill="#595959" filter="url(#b1)"/>
</g>
<rect x="69.1" y="756.5" width="87" height="21.2" fill="none" stroke="#141414" stroke-width="1.4"/>
<rect x="68.4" y="786.6" width="88.4" height="22.8" fill="#c3c3c3"/>
<clipPath id="c10"><rect x="68.4" y="786.6" width="88.4" height="22.8"/></clipPath><g clip-path="url(#c10)">
<path d="M79.84 791.8 L94.16 791.8 A3.84 2.4 0 0 1 94.16 796.6 L79.84 796.6 A3.84 2.4 0 0 1 79.84 791.8 Z" fill="#8f8f8f" filter="url(#b15)"/>
<path d="M80.3 796.6 L99 796.6 A4 4.4 0 0 1 99 805.4 L80.3 805.4 A4 4.4 0 0 1 80.3 796.6 Z" fill="#000" filter="url(#b07)"/>
<path d="M116.98 799.3 L145.7 799 A4 2.5 0 0 1 145.7 804 L116.98 803.9 A3.68 2.3 0 0 1 116.98 799.3 Z" fill="#111" filter="url(#b1)"/>
</g>
<rect x="69.1" y="787.3" width="87" height="21.4" fill="none" stroke="#141414" stroke-width="1.4"/>
<rect x="68.4" y="817.6" width="88.4" height="22.6" fill="#c3c3c3"/>
<clipPath id="c11"><rect x="68.4" y="817.6" width="88.4" height="22.6"/></clipPath><g clip-path="url(#c11)">
<path d="M77 827.3 L98 827.7 A4 2.7 0 0 1 98 833.1 L77 833.5 A4 3.1 0 0 1 77 827.3 Z" fill="#000" filter="url(#b07)"/>
<path d="M114 827.7 L147 827 A4 3.6 0 0 1 147 834.2 L114 832.9 A4 2.6 0 0 1 114 827.7 Z" fill="#000" filter="url(#b07)"/>
<ellipse cx="142.8" cy="833.5" rx="2.5" ry="2.2" fill="#000" filter="url(#b07)"/>
</g>
<rect x="69.1" y="818.3" width="87" height="21.2" fill="none" stroke="#141414" stroke-width="1.4"/>
<line x1="156.8" y1="766.1" x2="169.8" y2="766.1" stroke="#000" stroke-width="1.5"/>
<text x="172.8" y="769.8">65 kDa</text>
<line x1="156.8" y1="797.4" x2="169.8" y2="797.4" stroke="#000" stroke-width="1.5"/>
<text x="172.8" y="801.4">75 kDa</text>
<line x1="156.8" y1="827.6" x2="169.8" y2="827.6" stroke="#000" stroke-width="1.5"/>
<text x="172.8" y="831">36 kDa</text>
<line x1="260.4" y1="722.8" x2="260.4" y2="843.1" stroke="#000" stroke-width="1.15"/>
<line x1="257.4" y1="842.5" x2="260.4" y2="842.5" stroke="#000" stroke-width="1.15"/>
<text x="256.8" y="845.97" text-anchor="end">0.0</text>
<line x1="257.4" y1="802.8" x2="260.4" y2="802.8" stroke="#000" stroke-width="1.15"/>
<text x="256.8" y="806.26" text-anchor="end">0.5</text>
<line x1="257.4" y1="763.1" x2="260.4" y2="763.1" stroke="#000" stroke-width="1.15"/>
<text x="256.8" y="766.57" text-anchor="end">1.0</text>
<line x1="257.4" y1="723.4" x2="260.4" y2="723.4" stroke="#000" stroke-width="1.15"/>
<text x="256.8" y="726.87" text-anchor="end">1.5</text>
<line x1="260.4" y1="842.5" x2="329.4" y2="842.5" stroke="#000" stroke-width="1.15"/>
<line x1="277.4" y1="842.5" x2="277.4" y2="845.5" stroke="#000" stroke-width="1.15"/>
<line x1="311.9" y1="842.5" x2="311.9" y2="845.5" stroke="#000" stroke-width="1.15"/>
<text x="236.98" y="782.8" style="font-size:9.55px" text-anchor="middle" transform="rotate(-90 236.98 782.8)">c-Myc/GAPDH (%control)</text>
<rect x="266.4" y="763.1" width="22" height="79.4" fill="#000" stroke="#000" stroke-width="1"/>
<circle cx="270.2" cy="763.1" r="1.85" fill="#fff" stroke="#000" stroke-width="1.05"/>
<circle cx="277.4" cy="763.1" r="1.85" fill="#fff" stroke="#000" stroke-width="1.05"/>
<circle cx="284.6" cy="763.1" r="1.85" fill="#fff" stroke="#000" stroke-width="1.05"/>
<rect x="300.8" y="796.85" width="22.2" height="45.65" fill="#fff" stroke="#000" stroke-width="1"/>
<line x1="311.9" y1="796.85" x2="311.9" y2="789.7" stroke="#000" stroke-width="1"/>
<line x1="306.4" y1="789.7" x2="317.4" y2="789.7" stroke="#000" stroke-width="1"/>
<circle cx="311.9" cy="789.3" r="1.85" fill="#fff" stroke="#000" stroke-width="1.05"/>
<circle cx="307.9" cy="800.42" r="1.85" fill="#fff" stroke="#000" stroke-width="1.05"/>
<circle cx="315.9" cy="800.42" r="1.85" fill="#fff" stroke="#000" stroke-width="1.05"/>
<path d="M276.7 758.4V739.9H312.5V787.3" fill="none" stroke="#000" stroke-width="1.15"/>
<text x="294.6" y="740.7" text-anchor="middle" style="font-size:9.3px;stroke:none">***</text>
<text x="259.5" y="857.9" text-anchor="end">AZ628</text>
<text x="276.8" y="857.9" text-anchor="middle">-</text>
<text x="312" y="857.9" text-anchor="middle">+</text>
<line x1="391.5" y1="722.8" x2="391.5" y2="843.1" stroke="#000" stroke-width="1.15"/>
<line x1="388.5" y1="842.5" x2="391.5" y2="842.5" stroke="#000" stroke-width="1.15"/>
<text x="387.9" y="845.97" text-anchor="end">0.0</text>
<line x1="388.5" y1="802.8" x2="391.5" y2="802.8" stroke="#000" stroke-width="1.15"/>
<text x="387.9" y="806.26" text-anchor="end">0.5</text>
<line x1="388.5" y1="763.1" x2="391.5" y2="763.1" stroke="#000" stroke-width="1.15"/>
<text x="387.9" y="766.57" text-anchor="end">1.0</text>
<line x1="388.5" y1="723.4" x2="391.5" y2="723.4" stroke="#000" stroke-width="1.15"/>
<text x="387.9" y="726.87" text-anchor="end">1.5</text>
<line x1="391.5" y1="842.5" x2="461" y2="842.5" stroke="#000" stroke-width="1.15"/>
<line x1="408.7" y1="842.5" x2="408.7" y2="845.5" stroke="#000" stroke-width="1.15"/>
<line x1="443.2" y1="842.5" x2="443.2" y2="845.5" stroke="#000" stroke-width="1.15"/>
<text x="367.48" y="782.9" style="font-size:9.55px" text-anchor="middle" transform="rotate(-90 367.48 782.9)">ACSL4/GAPDH (%control)</text>
<rect x="397.7" y="763.1" width="22" height="79.4" fill="#000" stroke="#000" stroke-width="1"/>
<circle cx="401.7" cy="763.1" r="1.85" fill="#fff" stroke="#000" stroke-width="1.05"/>
<circle cx="408.7" cy="763.1" r="1.85" fill="#fff" stroke="#000" stroke-width="1.05"/>
<circle cx="415.7" cy="763.1" r="1.85" fill="#fff" stroke="#000" stroke-width="1.05"/>
<rect x="431.95" y="794.86" width="22.5" height="47.64" fill="#fff" stroke="#000" stroke-width="1"/>
<line x1="443.2" y1="794.86" x2="443.2" y2="778.98" stroke="#000" stroke-width="1"/>
<line x1="437.7" y1="778.98" x2="448.7" y2="778.98" stroke="#000" stroke-width="1"/>
<circle cx="443.2" cy="777" r="1.85" fill="#fff" stroke="#000" stroke-width="1.05"/>
<circle cx="443.2" cy="801.21" r="1.85" fill="#fff" stroke="#000" stroke-width="1.05"/>
<circle cx="443.2" cy="805.18" r="1.85" fill="#fff" stroke="#000" stroke-width="1.05"/>
<path d="M408.5 757V739.4H443.2V775" fill="none" stroke="#000" stroke-width="1.15"/>
<text x="425.85" y="740.2" text-anchor="middle" style="font-size:9.3px;stroke:none">*</text>
<text x="391.3" y="857.9" text-anchor="end">AZ628</text>
<text x="408" y="857.9" text-anchor="middle">-</text>
<text x="443.2" y="857.9" text-anchor="middle">+</text>
<text x="465.6" y="699.5" style="font-size:19.2px">G</text>
<rect x="521.6" y="709.1" width="12" height="5.6" fill="#000"/>
<rect x="522.1" y="721.7" width="11" height="4.6" fill="#fff" stroke="#000" stroke-width="1"/>
<text x="541.3" y="714.7" style="font-size:9.6px">DMSO</text>
<text x="541.3" y="726.8" style="font-size:9.6px">AZ628</text>
<line x1="517" y1="719.6" x2="517" y2="842.3" stroke="#000" stroke-width="1.15"/>
<line x1="514" y1="841.7" x2="517" y2="841.7" stroke="#000" stroke-width="1.15"/>
<text x="513.4" y="845.17" text-anchor="end">0.0</text>
<line x1="514" y1="801.2" x2="517" y2="801.2" stroke="#000" stroke-width="1.15"/>
<text x="513.4" y="804.67" text-anchor="end">0.5</text>
<line x1="514" y1="760.7" x2="517" y2="760.7" stroke="#000" stroke-width="1.15"/>
<text x="513.4" y="764.17" text-anchor="end">1.0</text>
<line x1="514" y1="720.2" x2="517" y2="720.2" stroke="#000" stroke-width="1.15"/>
<text x="513.4" y="723.67" text-anchor="end">1.5</text>
<line x1="517" y1="841.7" x2="620" y2="841.7" stroke="#000" stroke-width="1.15"/>
<line x1="543.9" y1="841.7" x2="543.9" y2="844.7" stroke="#000" stroke-width="1.15"/>
<line x1="593.4" y1="841.7" x2="593.4" y2="844.7" stroke="#000" stroke-width="1.15"/>
<text x="492.02" y="780.9" style="font-size:9.7px" text-anchor="middle" transform="rotate(-90 492.02 780.9)">Relative mRNA levels</text>
<rect x="527.7" y="760.7" width="14" height="81" fill="#000" stroke="#000" stroke-width="1"/>
<circle cx="529.1" cy="760.7" r="1.85" fill="#fff" stroke="#000" stroke-width="1.05"/>
<circle cx="534.7" cy="760.7" r="1.85" fill="#fff" stroke="#000" stroke-width="1.05"/>
<circle cx="540.3" cy="760.7" r="1.85" fill="#fff" stroke="#000" stroke-width="1.05"/>
<rect x="545.9" y="787.03" width="13.6" height="54.67" fill="#fff" stroke="#000" stroke-width="1"/>
<line x1="552.7" y1="787.03" x2="552.7" y2="778.93" stroke="#000" stroke-width="1"/>
<line x1="549.2" y1="778.93" x2="556.2" y2="778.93" stroke="#000" stroke-width="1"/>
<circle cx="547.3" cy="779.33" r="1.85" fill="#fff" stroke="#000" stroke-width="1.05"/>
<circle cx="557.7" cy="782.17" r="1.85" fill="#fff" stroke="#000" stroke-width="1.05"/>
<circle cx="552.7" cy="796.34" r="1.85" fill="#fff" stroke="#000" stroke-width="1.05"/>
<rect x="577.8" y="760.7" width="14" height="81" fill="#000" stroke="#000" stroke-width="1"/>
<circle cx="579.2" cy="760.7" r="1.85" fill="#fff" stroke="#000" stroke-width="1.05"/>
<circle cx="584.8" cy="760.7" r="1.85" fill="#fff" stroke="#000" stroke-width="1.05"/>
<circle cx="590.4" cy="760.7" r="1.85" fill="#fff" stroke="#000" stroke-width="1.05"/>
<rect x="596" y="793.1" width="13.6" height="48.6" fill="#fff" stroke="#000" stroke-width="1"/>
<line x1="602.8" y1="793.1" x2="602.8" y2="780.55" stroke="#000" stroke-width="1"/>
<line x1="599.3" y1="780.55" x2="606.3" y2="780.55" stroke="#000" stroke-width="1"/>
<circle cx="603.3" cy="780.55" r="1.85" fill="#fff" stroke="#000" stroke-width="1.05"/>
<circle cx="597.8" cy="798.77" r="1.85" fill="#fff" stroke="#000" stroke-width="1.05"/>
<circle cx="608.3" cy="798.37" r="1.85" fill="#fff" stroke="#000" stroke-width="1.05"/>
<path d="M534.7 759V745.2H552.7V776" fill="none" stroke="#000" stroke-width="1.15"/>
<text x="543.7" y="746" text-anchor="middle" style="font-size:9.3px;stroke:none">**</text>
<path d="M584.7 759V745.2H603.3V778" fill="none" stroke="#000" stroke-width="1.15"/>
<text x="594" y="746" text-anchor="middle" style="font-size:9.3px;stroke:none">**</text>
<text x="543.2" y="855.3" text-anchor="middle">c-Myc</text>
<text x="593.5" y="855.3" text-anchor="middle">ACSL4</text>
<text x="0.8" y="877.8" style="font-size:19.2px">H</text>
<text x="87.2" y="930.3" text-anchor="middle">shNT</text>
<text x="134.8" y="930.3" text-anchor="middle">shRAF</text>
<text x="58.8" y="954.7" text-anchor="end">RAF</text>
<text x="58.8" y="985.2" text-anchor="end">GAPDH</text>
<rect x="68.4" y="938.4" width="88.6" height="22.8" fill="#c3c3c3"/>
<clipPath id="c12"><rect x="68.4" y="938.4" width="88.6" height="22.8"/></clipPath><g clip-path="url(#c12)">
<path d="M75.5 947.5 L106.2 947.6 A4 3.8 0 0 1 106.2 955.2 L75.5 955.3 A4 3.9 0 0 1 75.5 947.5 Z" fill="#000" filter="url(#b07)"/>
<path d="M120.22 949.4 L147.52 949.3 A2.88 1.8 0 0 1 147.52 952.9 L120.22 952.8 A2.72 1.7 0 0 1 120.22 949.4 Z" fill="#555" filter="url(#b1)"/>
</g>
<rect x="69.1" y="939.1" width="87.2" height="21.4" fill="none" stroke="#141414" stroke-width="1.4"/>
<rect x="68.4" y="969.3" width="88.6" height="22.7" fill="#c3c3c3"/>
<clipPath id="c13"><rect x="68.4" y="969.3" width="88.6" height="22.7"/></clipPath><g clip-path="url(#c13)">
<ellipse cx="91" cy="981.7" rx="21" ry="3.5" fill="#000" filter="url(#b07)"/>
<ellipse cx="130.5" cy="981.1" rx="19.8" ry="3.6" fill="#000" filter="url(#b07)"/>
</g>
<rect x="69.1" y="970" width="87.2" height="21.3" fill="none" stroke="#141414" stroke-width="1.4"/>
<line x1="157" y1="950.2" x2="169.2" y2="950.2" stroke="#000" stroke-width="1.5"/>
<text x="172.2" y="953.8">75 kDa</text>
<line x1="157" y1="981.6" x2="169.2" y2="981.6" stroke="#000" stroke-width="1.5"/>
<text x="172.2" y="985.2">36 kDa</text>
<line x1="246.3" y1="901.9" x2="246.3" y2="1024.7" stroke="#000" stroke-width="1.15"/>
<line x1="243.3" y1="1024.1" x2="246.3" y2="1024.1" stroke="#000" stroke-width="1.15"/>
<text x="242.7" y="1027.56" text-anchor="end">0</text>
<line x1="243.3" y1="983.57" x2="246.3" y2="983.57" stroke="#000" stroke-width="1.15"/>
<text x="242.7" y="987.03" text-anchor="end">20</text>
<line x1="243.3" y1="943.03" x2="246.3" y2="943.03" stroke="#000" stroke-width="1.15"/>
<text x="242.7" y="946.5" text-anchor="end">40</text>
<line x1="243.3" y1="902.5" x2="246.3" y2="902.5" stroke="#000" stroke-width="1.15"/>
<text x="242.7" y="905.97" text-anchor="end">60</text>
<line x1="246.3" y1="1024.1" x2="350" y2="1024.1" stroke="#000" stroke-width="1.15"/>
<line x1="262.9" y1="1024.1" x2="262.9" y2="1027.1" stroke="#000" stroke-width="1.15"/>
<line x1="298.8" y1="1024.1" x2="298.8" y2="1027.1" stroke="#000" stroke-width="1.15"/>
<line x1="334.5" y1="1024.1" x2="334.5" y2="1027.1" stroke="#000" stroke-width="1.15"/>
<text x="224.47" y="962.8" text-anchor="middle" transform="rotate(-90 224.47 962.8)">Lipid ROS (%)</text>
<rect x="251.9" y="1021.67" width="10.4" height="2.43" fill="#000" stroke="#000" stroke-width="1"/>
<line x1="257.1" y1="1021.67" x2="257.1" y2="1020.65" stroke="#000" stroke-width="1"/>
<line x1="255.1" y1="1020.65" x2="259.1" y2="1020.65" stroke="#000" stroke-width="1"/>
<circle cx="253.5" cy="1023.09" r="1.9" fill="#fff" stroke="#000" stroke-width="1.05"/>
<circle cx="257.1" cy="1020.25" r="1.9" fill="#fff" stroke="#000" stroke-width="1.05"/>
<circle cx="260.7" cy="1021.67" r="1.9" fill="#fff" stroke="#000" stroke-width="1.05"/>
<rect x="263.9" y="1021.06" width="10.4" height="3.04" fill="#fff" stroke="#000" stroke-width="1"/>
<circle cx="265.5" cy="1021.67" r="1.9" fill="#fff" stroke="#000" stroke-width="1.05"/>
<circle cx="269.1" cy="1020.25" r="1.9" fill="#fff" stroke="#000" stroke-width="1.05"/>
<circle cx="272.7" cy="1020.86" r="1.9" fill="#fff" stroke="#000" stroke-width="1.05"/>
<rect x="287.5" y="930.87" width="10.4" height="93.23" fill="#000" stroke="#000" stroke-width="1"/>
<line x1="292.7" y1="930.87" x2="292.7" y2="923.78" stroke="#000" stroke-width="1"/>
<line x1="290.2" y1="923.78" x2="295.2" y2="923.78" stroke="#000" stroke-width="1"/>
<circle cx="292.7" cy="923.78" r="1.9" fill="#fff" stroke="#000" stroke-width="1.05"/>
<circle cx="292.7" cy="933.91" r="1.9" fill="#fff" stroke="#000" stroke-width="1.05"/>
<circle cx="292.7" cy="937.97" r="1.9" fill="#fff" stroke="#000" stroke-width="1.05"/>
<rect x="299.9" y="1015.39" width="10.6" height="8.71" fill="#fff" stroke="#000" stroke-width="1"/>
<circle cx="301.7" cy="1012.95" r="1.9" fill="#fff" stroke="#000" stroke-width="1.05"/>
<circle cx="305.2" cy="1017.21" r="1.9" fill="#fff" stroke="#000" stroke-width="1.05"/>
<circle cx="308.7" cy="1014.98" r="1.9" fill="#fff" stroke="#000" stroke-width="1.05"/>
<circle cx="305.2" cy="1011.33" r="1.9" fill="#fff" stroke="#000" stroke-width="1.05"/>
<rect x="323.3" y="924.79" width="10.2" height="99.31" fill="#000" stroke="#000" stroke-width="1"/>
<line x1="328.4" y1="924.79" x2="328.4" y2="919.73" stroke="#000" stroke-width="1"/>
<line x1="325.9" y1="919.73" x2="330.9" y2="919.73" stroke="#000" stroke-width="1"/>
<circle cx="324.9" cy="919.73" r="1.9" fill="#fff" stroke="#000" stroke-width="1.05"/>
<circle cx="331.9" cy="920.74" r="1.9" fill="#fff" stroke="#000" stroke-width="1.05"/>
<circle cx="328.4" cy="931.89" r="1.9" fill="#fff" stroke="#000" stroke-width="1.05"/>
<rect x="336" y="1010.72" width="10.2" height="13.38" fill="#fff" stroke="#000" stroke-width="1"/>
<line x1="341.1" y1="1010.72" x2="341.1" y2="1004.04" stroke="#000" stroke-width="1"/>
<line x1="338.6" y1="1004.04" x2="343.6" y2="1004.04" stroke="#000" stroke-width="1"/>
<circle cx="341.1" cy="1004.04" r="1.9" fill="#fff" stroke="#000" stroke-width="1.05"/>
<circle cx="337.6" cy="1013.97" r="1.9" fill="#fff" stroke="#000" stroke-width="1.05"/>
<circle cx="344.6" cy="1013.97" r="1.9" fill="#fff" stroke="#000" stroke-width="1.05"/>
<path d="M292.5 925V914.7H305.3V1012" fill="none" stroke="#000" stroke-width="1.15"/>
<text x="298.9" y="915.5" text-anchor="middle" style="font-size:9.3px;stroke:none">***</text>
<path d="M328.8 918.5V909.6H341.3V1003" fill="none" stroke="#000" stroke-width="1.15"/>
<text x="335.05" y="910.4" text-anchor="middle" style="font-size:9.3px;stroke:none">***</text>
<text x="262.9" y="1037.4" text-anchor="middle">DMSO</text>
<text x="298.8" y="1037.4" text-anchor="middle">Erastin</text>
<text x="334.5" y="1037.4" text-anchor="middle">-Cys</text>
<rect x="250.8" y="887.7" width="12" height="5.6" fill="#000"/>
<rect x="251.3" y="899.4" width="11" height="4.6" fill="#fff" stroke="#000" stroke-width="1"/>
<text x="270.5" y="893.3" style="font-size:9.6px">shNT</text>
<text x="270.5" y="904.5" style="font-size:9.6px">shRAF</text>
<line x1="386.7" y1="901.9" x2="386.7" y2="1024.7" stroke="#000" stroke-width="1.15"/>
<line x1="383.7" y1="1024.1" x2="386.7" y2="1024.1" stroke="#000" stroke-width="1.15"/>
<text x="383.1" y="1027.56" text-anchor="end">0</text>
<line x1="383.7" y1="983.57" x2="386.7" y2="983.57" stroke="#000" stroke-width="1.15"/>
<text x="383.1" y="987.03" text-anchor="end">20</text>
<line x1="383.7" y1="943.03" x2="386.7" y2="943.03" stroke="#000" stroke-width="1.15"/>
<text x="383.1" y="946.5" text-anchor="end">40</text>
<line x1="383.7" y1="902.5" x2="386.7" y2="902.5" stroke="#000" stroke-width="1.15"/>
<text x="383.1" y="905.97" text-anchor="end">60</text>
<line x1="386.7" y1="1024.1" x2="492.8" y2="1024.1" stroke="#000" stroke-width="1.15"/>
<line x1="403.5" y1="1024.1" x2="403.5" y2="1027.1" stroke="#000" stroke-width="1.15"/>
<line x1="439.3" y1="1024.1" x2="439.3" y2="1027.1" stroke="#000" stroke-width="1.15"/>
<line x1="475.4" y1="1024.1" x2="475.4" y2="1027.1" stroke="#000" stroke-width="1.15"/>
<text x="365.37" y="962.5" text-anchor="middle" transform="rotate(-90 365.37 962.5)">Cell death (%)</text>
<rect x="392.2" y="1022.48" width="10.2" height="1.62" fill="#000" stroke="#000" stroke-width="1"/>
<circle cx="393.7" cy="1023.09" r="1.9" fill="#fff" stroke="#000" stroke-width="1.05"/>
<circle cx="397.3" cy="1021.67" r="1.9" fill="#fff" stroke="#000" stroke-width="1.05"/>
<circle cx="400.9" cy="1022.28" r="1.9" fill="#fff" stroke="#000" stroke-width="1.05"/>
<rect x="404.8" y="1022.88" width="10.2" height="1.22" fill="#fff" stroke="#000" stroke-width="1"/>
<circle cx="406.3" cy="1022.88" r="1.9" fill="#fff" stroke="#000" stroke-width="1.05"/>
<circle cx="409.9" cy="1022.88" r="1.9" fill="#fff" stroke="#000" stroke-width="1.05"/>
<circle cx="413.5" cy="1022.48" r="1.9" fill="#fff" stroke="#000" stroke-width="1.05"/>
<rect x="428.4" y="952.56" width="9.8" height="71.54" fill="#000" stroke="#000" stroke-width="1"/>
<line x1="433.3" y1="952.56" x2="433.3" y2="948.1" stroke="#000" stroke-width="1"/>
<line x1="430.8" y1="948.1" x2="435.8" y2="948.1" stroke="#000" stroke-width="1"/>
<circle cx="433.3" cy="948.1" r="1.9" fill="#fff" stroke="#000" stroke-width="1.05"/>
<circle cx="433.3" cy="950.13" r="1.9" fill="#fff" stroke="#000" stroke-width="1.05"/>
<circle cx="433.3" cy="957.22" r="1.9" fill="#fff" stroke="#000" stroke-width="1.05"/>
<rect x="440.9" y="1011.94" width="10" height="12.16" fill="#fff" stroke="#000" stroke-width="1"/>
<line x1="445.9" y1="1011.94" x2="445.9" y2="999.78" stroke="#000" stroke-width="1"/>
<line x1="443.4" y1="999.78" x2="448.4" y2="999.78" stroke="#000" stroke-width="1"/>
<circle cx="445.9" cy="999.78" r="1.9" fill="#fff" stroke="#000" stroke-width="1.05"/>
<circle cx="442.4" cy="1018.02" r="1.9" fill="#fff" stroke="#000" stroke-width="1.05"/>
<circle cx="449.4" cy="1018.02" r="1.9" fill="#fff" stroke="#000" stroke-width="1.05"/>
<rect x="464.2" y="956.61" width="9.8" height="67.49" fill="#000" stroke="#000" stroke-width="1"/>
<line x1="469.1" y1="956.61" x2="469.1" y2="952.56" stroke="#000" stroke-width="1"/>
<line x1="466.6" y1="952.56" x2="471.6" y2="952.56" stroke="#000" stroke-width="1"/>
<circle cx="465.6" cy="952.15" r="1.9" fill="#fff" stroke="#000" stroke-width="1.05"/>
<circle cx="472.6" cy="955.19" r="1.9" fill="#fff" stroke="#000" stroke-width="1.05"/>
<circle cx="469.1" cy="963.3" r="1.9" fill="#fff" stroke="#000" stroke-width="1.05"/>
<rect x="476.9" y="998.97" width="9.8" height="25.13" fill="#fff" stroke="#000" stroke-width="1"/>
<circle cx="478.3" cy="996.13" r="1.9" fill="#fff" stroke="#000" stroke-width="1.05"/>
<circle cx="485.3" cy="998.36" r="1.9" fill="#fff" stroke="#000" stroke-width="1.05"/>
<circle cx="481.8" cy="1002.21" r="1.9" fill="#fff" stroke="#000" stroke-width="1.05"/>
<path d="M432.7 942V930.1H446V1000" fill="none" stroke="#000" stroke-width="1.15"/>
<text x="439.35" y="930.9" text-anchor="middle" style="font-size:9.3px;stroke:none">***</text>
<path d="M468.9 946V934.2H481.6V994" fill="none" stroke="#000" stroke-width="1.15"/>
<text x="475.25" y="935" text-anchor="middle" style="font-size:9.3px;stroke:none">***</text>
<text x="403.5" y="1037.4" text-anchor="middle">DMSO</text>
<text x="439.3" y="1037.4" text-anchor="middle">Erastin</text>
<text x="475.4" y="1037.4" text-anchor="middle">-Cys</text>
<rect x="391.2" y="887.7" width="12" height="5.6" fill="#000"/>
<rect x="391.7" y="899.4" width="11" height="4.6" fill="#fff" stroke="#000" stroke-width="1"/>
<text x="410.9" y="893.3" style="font-size:9.6px">shNT</text>
<text x="410.9" y="904.5" style="font-size:9.6px">shRAF</text>
<text x="493.5" y="877.6" style="font-size:19.2px">I</text>
<text x="570.6" y="908.1" text-anchor="middle">shNT</text>
<text x="609" y="908.1" text-anchor="middle">shRAF</text>
<text x="527.7" y="932.4" text-anchor="middle">c-Myc</text>
<text x="525.7" y="963.2" text-anchor="middle">ACSL4</text>
<text x="525.6" y="992.3" text-anchor="middle">GAPDH</text>
<rect x="548.4" y="915.4" width="88.2" height="22.8" fill="#c3c3c3"/>
<clipPath id="c14"><rect x="548.4" y="915.4" width="88.2" height="22.8"/></clipPath><g clip-path="url(#c14)">
<path d="M559.3 919.5 L584 919.5 A4 3.8 0 0 1 584 927.1 L559.3 927.1 A4 3.8 0 0 1 559.3 919.5 Z" fill="#000" filter="url(#b07)"/>
<path d="M600.8 920.9 L627 920.6 A4 2.9 0 0 1 627 926.4 L600.8 926.1 A4 2.6 0 0 1 600.8 920.9 Z" fill="#444" filter="url(#b1)"/>
<path d="M623.84 921.1 L627 920.8 A4 2.7 0 0 1 627 926.2 L623.84 925.9 A3.84 2.4 0 0 1 623.84 921.1 Z" fill="#333" filter="url(#b1)"/>
</g>
<rect x="549.1" y="916.1" width="86.8" height="21.4" fill="none" stroke="#141414" stroke-width="1.4"/>
<rect x="548.4" y="946" width="88.2" height="22.4" fill="#c3c3c3"/>
<clipPath id="c15"><rect x="548.4" y="946" width="88.2" height="22.4"/></clipPath><g clip-path="url(#c15)">
<path d="M557 954.7 L584.8 954.7 A4 2.8 0 0 1 584.8 960.3 L557 960.3 A4 2.8 0 0 1 557 954.7 Z" fill="#000" filter="url(#b07)"/>
<path d="M599.04 955.9 L624.22 956.6 A2.08 1.3 0 0 1 624.22 959.2 L599.04 959.7 A3.04 1.9 0 0 1 599.04 955.9 Z" fill="#000" filter="url(#b07)"/>
</g>
<rect x="549.1" y="946.7" width="86.8" height="21" fill="none" stroke="#141414" stroke-width="1.4"/>
<rect x="548.4" y="976.4" width="88.2" height="22.8" fill="#c3c3c3"/>
<clipPath id="c16"><rect x="548.4" y="976.4" width="88.2" height="22.8"/></clipPath><g clip-path="url(#c16)">
<path d="M559 984.5 L586.2 983.8 A4 3.8 0 0 1 586.2 991.4 L559 990.7 A4 3.1 0 0 1 559 984.5 Z" fill="#000" filter="url(#b07)"/>
<path d="M600.8 983.8 L625 984.4 A4 3.2 0 0 1 625 990.8 L600.8 991.4 A4 3.8 0 0 1 600.8 983.8 Z" fill="#000" filter="url(#b07)"/>
<path d="M601.88 993 L620.12 993 A2.88 1.8 0 0 1 620.12 996.6 L601.88 996.6 A2.88 1.8 0 0 1 601.88 993 Z" fill="#9a9a9a" filter="url(#b15)"/>
</g>
<rect x="549.1" y="977.1" width="86.8" height="21.4" fill="none" stroke="#141414" stroke-width="1.4"/>
<line x1="636.6" y1="924.8" x2="648" y2="924.8" stroke="#000" stroke-width="1.5"/>
<text x="651" y="928">65 kDa</text>
<line x1="636.6" y1="955.9" x2="648" y2="955.9" stroke="#000" stroke-width="1.5"/>
<text x="651" y="959.1">75 kDa</text>
<line x1="636.6" y1="986.4" x2="648" y2="986.4" stroke="#000" stroke-width="1.5"/>
<text x="651" y="989.6">36 kDa</text>
</svg>
</body></html>
